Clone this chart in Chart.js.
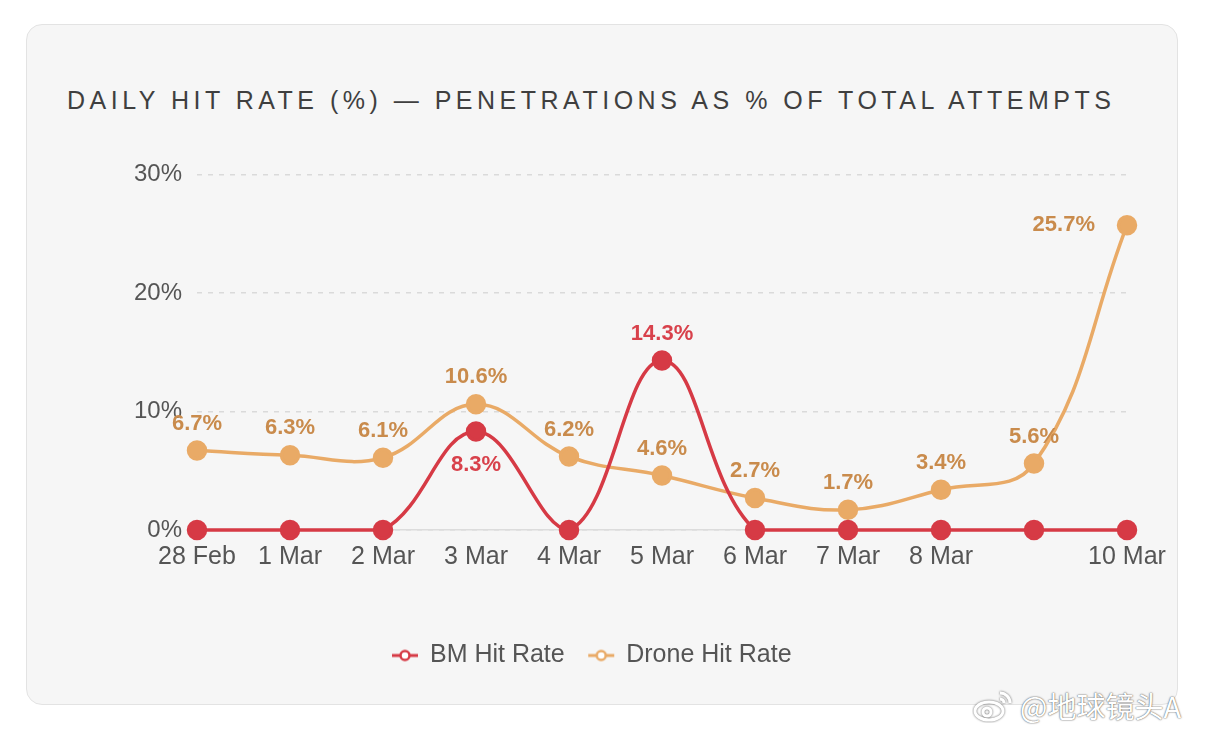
<!DOCTYPE html>
<html>
<head>
<meta charset="utf-8">
<script src="https://cdn.jsdelivr.net/npm/chart.js@4.4.1/dist/chart.umd.min.js"></script>
<style>
  html,body{margin:0;padding:0;background:#ffffff;width:1212px;height:732px;overflow:hidden;font-family:"Liberation Sans",Arial,Helvetica,sans-serif;}
  #card{position:absolute;left:26px;top:24px;width:1150px;height:679px;border:1px solid #e3e3e3;border-radius:16px;background:#f6f6f6;}
  #title{position:absolute;left:67px;top:86px;font-size:25px;letter-spacing:4.5px;color:#3f3f3f;white-space:nowrap;}
  #wrap{position:absolute;left:17px;top:145px;width:1150px;height:535px;}
  #wm{position:absolute;left:972px;top:684px;font-family:"Noto Sans CJK SC",sans-serif;font-size:29px;color:#ffffff;text-shadow:0 0 2px rgba(0,0,0,0.55),0 0 1px rgba(0,0,0,0.5);white-space:nowrap;display:flex;align-items:center;}
</style>
</head>
<body>
<div id="card"></div>
<div id="title">DAILY HIT RATE (%) — PENETRATIONS AS % OF TOTAL ATTEMPTS</div>
<div id="wrap"><canvas id="c"></canvas></div>
<div id="wm"><svg width="44" height="36" viewBox="0 0 44 36" style="margin-right:4px"><g fill="none" stroke="#fff" stroke-width="3" style="filter:drop-shadow(0 0 1px rgba(0,0,0,.6))"><ellipse cx="17" cy="24" rx="14" ry="9"/><circle cx="15" cy="25" r="4"/><path d="M28 6 a10 10 0 0 1 10 10"/><path d="M28 12 a4 4 0 0 1 4 4"/></g></svg>@地球镜头A</div>
<script>
const categories = ["28 Feb","1 Mar","2 Mar","3 Mar","4 Mar","5 Mar","6 Mar","7 Mar","8 Mar","9 Mar","10 Mar"];
const hiddenTickLabels = ["9 Mar"];
const bmHitRate = [0, 0, 0, 8.3, 0, 14.3, 0, 0, 0, 0, 0];
const droneHitRate = [6.7, 6.3, 6.1, 10.6, 6.2, 4.6, 2.7, 1.7, 3.4, 5.6, 25.7];
const yTicks = [0, 10, 20, 30];

const RED = '#d63a45';
const ORANGE = '#e9aa66';
const RED_LABEL = '#d8414b';
const ORANGE_LABEL = '#c98b4c';
const FONT = '"Liberation Sans", Arial, sans-serif';

function legendMarker(color){
  const cv = document.createElement('canvas');
  cv.width = 28; cv.height = 14;
  const g = cv.getContext('2d');
  g.strokeStyle = color; g.lineWidth = 3;
  g.beginPath(); g.moveTo(1,7); g.lineTo(27,7); g.stroke();
  g.fillStyle = '#ffffff'; g.lineWidth = 2.5;
  g.beginPath(); g.arc(14,7,4.5,0,Math.PI*2); g.fill(); g.stroke();
  return cv;
}
const markerRed = legendMarker(RED);
const markerOrange = legendMarker(ORANGE);

// value labels drawn at the library's own element positions
const valueLabels = {
  id:'valueLabels',
  afterDatasetsDraw(chart){
    const ctx = chart.ctx;
    ctx.save();
    ctx.font = 'bold 22px ' + FONT;
    ctx.textBaseline = 'middle';
    chart.data.datasets.forEach((ds, di) => {
      const meta = chart.getDatasetMeta(di);
      meta.data.forEach((pt, i) => {
        const v = ds.data[i];
        if (v === 0) return;
        const pos = ds.labelPos ? ds.labelPos(i) : 'top';
        let x = pt.x, y = pt.y;
        ctx.textAlign = 'center';
        if (pos === 'top') y -= 27;
        else if (pos === 'bottom') y += 33;
        else if (pos === 'left') { x -= 32; ctx.textAlign = 'right'; }
        ctx.fillStyle = ds.labelColor;
        ctx.fillText(v.toFixed(1) + '%', x, y);
      });
    });
    ctx.restore();
  }
};

new Chart(document.getElementById('c'), {
  type:'line',
  data:{
    labels:categories,
    datasets:[
      {
        label:'BM Hit Rate', data:bmHitRate,
        borderColor:RED, backgroundColor:RED, pointBackgroundColor:RED, pointBorderColor:RED,
        borderWidth:3.5, pointRadius:8.5, pointHoverRadius:8.5, tension:0.4, fill:false,
        labelColor:RED_LABEL, labelPos:(i)=> bmHitRate[i] < droneHitRate[i] ? 'bottom' : 'top'
      },
      {
        label:'Drone Hit Rate', data:droneHitRate,
        borderColor:ORANGE, backgroundColor:ORANGE, pointBackgroundColor:ORANGE, pointBorderColor:ORANGE,
        borderWidth:3.5, pointRadius:8.5, pointHoverRadius:8.5, tension:0.4, fill:false,
        labelColor:ORANGE_LABEL, labelPos:(i)=> i === droneHitRate.length-1 ? 'left' : 'top'
      }
    ]
  },
  options:{
    responsive:true, maintainAspectRatio:false, animation:false,
    devicePixelRatio:1,
    layout:{padding:{top:17,right:0,bottom:2,left:0}},
    clip:false,
    plugins:{
      legend:{
        position:'bottom',
        labels:{
          usePointStyle:true,
          font:{size:25,family:FONT},
          color:'#555555',
          padding:24,
          generateLabels(chart){
            return chart.data.datasets.map((ds,i)=>({
              text:ds.label, pointStyle: i===0?markerRed:markerOrange,
              fillStyle:ds.borderColor, strokeStyle:ds.borderColor, lineWidth:0,
              hidden:false, datasetIndex:i, fontColor:'#555555'
            }));
          }
        }
      },
      tooltip:{enabled:false},
      title:{display:false}
    },
    scales:{
      x:{
        grid:{display:false, drawTicks:false},
        border:{display:true, color:'#dcdcdc', width:1.5},
        afterFit(s){ s.height = 89; s.paddingRight = 40; },
        ticks:{
          color:'#555555', padding:12, autoSkip:false, maxRotation:0,
          font:{size:25,family:FONT},
          callback(v, i){ const l = categories[i]; return hiddenTickLabels.includes(l) ? '' : l; }
        }
      },
      y:{
        min:0, max:30,
        afterFit(s){ s.width = 180; },
        afterBuildTicks(s){ s.ticks = yTicks.map(v=>({value:v})); },
        grid:{color:'#dadada', lineWidth:1.5, drawTicks:false},
        border:{display:false, dash:[5,6]},
        ticks:{
          color:'#555555', padding:15,
          font:{size:24,family:FONT},
          callback(v){ return v + '%'; }
        }
      }
    }
  },
  plugins:[valueLabels]
});
</script>
</body>
</html>
